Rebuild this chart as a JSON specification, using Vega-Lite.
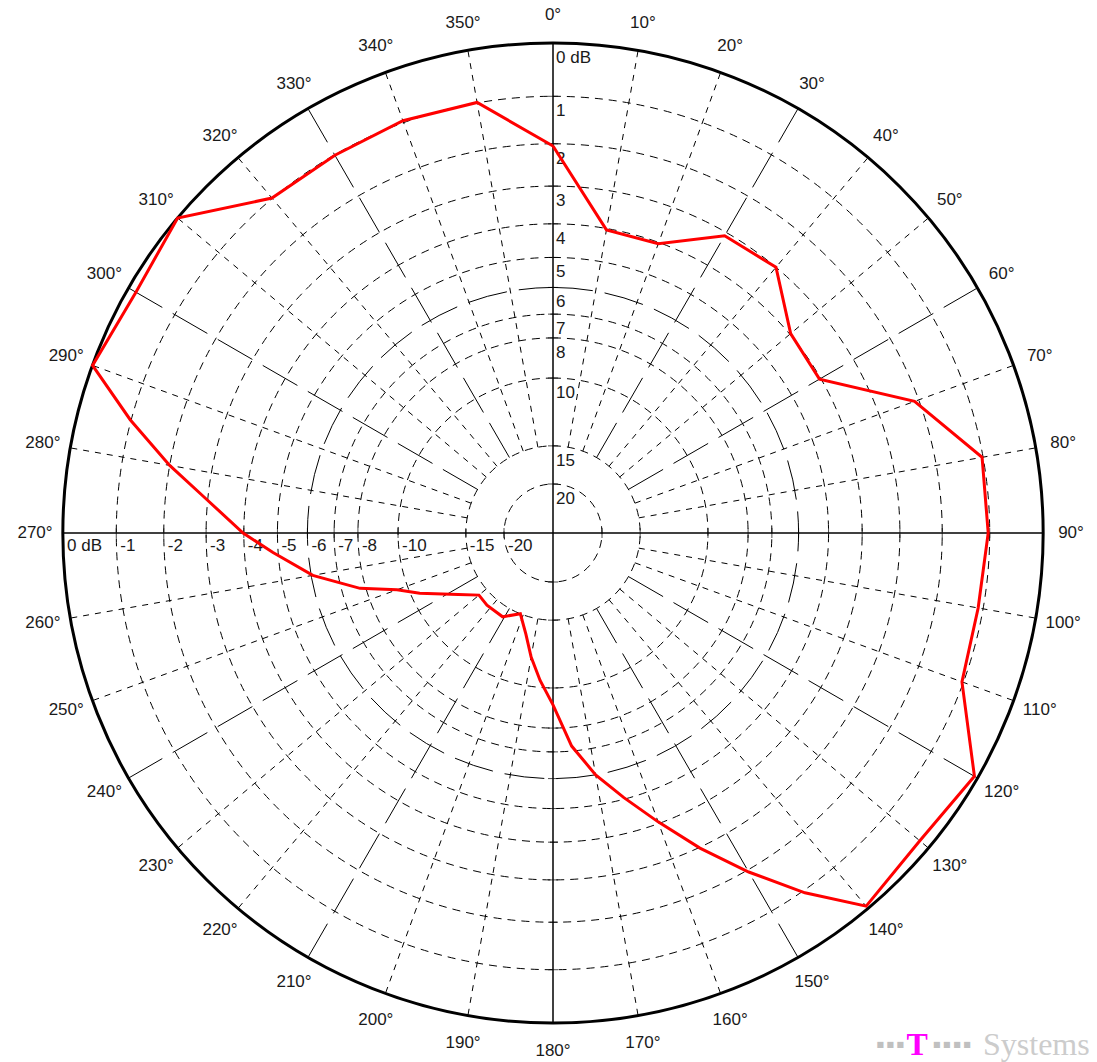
{
  "$schema": "https://vega.github.io/schema/vega-lite/v6.json",
  "width": 980,
  "height": 980,
  "autosize": {"type": "none"},
  "padding": {"left": 63, "top": 43, "right": 54, "bottom": 39},
  "background": "white",
  "config": {"view": {"stroke": null}, "font": "Liberation Sans"},
  "datasets": {
    "rings": [
      {"db": 0}, {"db": -1}, {"db": -2}, {"db": -3}, {"db": -4}, {"db": -5},
      {"db": -6}, {"db": -7}, {"db": -8}, {"db": -10}, {"db": -15}, {"db": -20}
    ],
    "radials": [
      {"angle": 10}, {"angle": 20}, {"angle": 30}, {"angle": 40}, {"angle": 50}, {"angle": 60},
      {"angle": 70}, {"angle": 80}, {"angle": 100}, {"angle": 110}, {"angle": 120}, {"angle": 130},
      {"angle": 140}, {"angle": 150}, {"angle": 160}, {"angle": 170}, {"angle": 190}, {"angle": 200},
      {"angle": 210}, {"angle": 220}, {"angle": 230}, {"angle": 240}, {"angle": 250}, {"angle": 260},
      {"angle": 280}, {"angle": 290}, {"angle": 300}, {"angle": 310}, {"angle": 320}, {"angle": 330},
      {"angle": 340}, {"angle": 350}
    ],
    "angles": [
      {"angle": 0}, {"angle": 10}, {"angle": 20}, {"angle": 30}, {"angle": 40}, {"angle": 50},
      {"angle": 60}, {"angle": 70}, {"angle": 80}, {"angle": 90}, {"angle": 100}, {"angle": 110},
      {"angle": 120}, {"angle": 130}, {"angle": 140}, {"angle": 150}, {"angle": 160}, {"angle": 170},
      {"angle": 180}, {"angle": 190}, {"angle": 200}, {"angle": 210}, {"angle": 220}, {"angle": 230},
      {"angle": 240}, {"angle": 250}, {"angle": 260}, {"angle": 270}, {"angle": 280}, {"angle": 290},
      {"angle": 300}, {"angle": 310}, {"angle": 320}, {"angle": 330}, {"angle": 340}, {"angle": 350}
    ],
    "pattern": [
      {"angle": 0, "db": -2.05}, {"angle": 10, "db": -4.04}, {"angle": 20, "db": -4.04},
      {"angle": 30, "db": -3.09}, {"angle": 40, "db": -3.0}, {"angle": 50, "db": -3.97},
      {"angle": 60, "db": -4.04}, {"angle": 70, "db": -2.1}, {"angle": 80, "db": -1.02},
      {"angle": 90, "db": -1.03}, {"angle": 100, "db": -1.1}, {"angle": 110, "db": -1.03},
      {"angle": 120, "db": -0.06}, {"angle": 130, "db": -0.2}, {"angle": 140, "db": -0.05},
      {"angle": 145, "db": -0.95}, {"angle": 150, "db": -1.95}, {"angle": 155, "db": -2.98},
      {"angle": 160, "db": -4.05}, {"angle": 165, "db": -5.05}, {"angle": 170, "db": -6.0},
      {"angle": 175, "db": -7.2}, {"angle": 180, "db": -9.1}, {"angle": 185, "db": -10.4},
      {"angle": 190, "db": -11.8}, {"angle": 195, "db": -13.4}, {"angle": 202, "db": -15.0},
      {"angle": 211, "db": -14.0}, {"angle": 222.5, "db": -14.0}, {"angle": 230, "db": -14.1},
      {"angle": 237, "db": -12.75}, {"angle": 245.7, "db": -10.5}, {"angle": 250, "db": -9.4},
      {"angle": 254, "db": -7.75}, {"angle": 260, "db": -6.06}, {"angle": 266, "db": -4.84},
      {"angle": 270, "db": -3.98}, {"angle": 276, "db": -2.88}, {"angle": 280, "db": -2.0},
      {"angle": 285, "db": -0.98}, {"angle": 290, "db": 0.0}, {"angle": 300, "db": -0.15},
      {"angle": 310, "db": 0.0}, {"angle": 320, "db": -0.99}, {"angle": 330, "db": -1.01},
      {"angle": 340, "db": -0.96}, {"angle": 350, "db": -0.99}, {"angle": 360, "db": -2.05}
    ]
  },
  "layer": [
    {
      "data": {"name": "rings"},
      "transform": [
        {"filter": "datum.db != 0 && datum.db != -6"},
        {"calculate": "pow(10, datum.db / 20)", "as": "a"}
      ],
      "mark": {"type": "arc", "filled": false, "stroke": "#000000", "strokeWidth": 1, "strokeDash": [8, 6], "theta": 0, "theta2": 6.2832},
      "encoding": {
        "x": {"datum": 0, "type": "quantitative", "scale": {"domain": [-1, 1], "nice": false, "zero": false}, "axis": null},
        "y": {"datum": 0, "type": "quantitative", "scale": {"domain": [-1, 1], "nice": false, "zero": false}, "axis": null},
        "radius": {"field": "a", "type": "quantitative", "stack": null, "scale": {"type": "linear", "domain": [0, 1], "range": [0, 490], "zero": true}, "legend": null}
      }
    },
    {
      "data": {"name": "rings"},
      "transform": [
        {"filter": "datum.db == -6"},
        {"calculate": "pow(10, datum.db / 20)", "as": "a"}
      ],
      "mark": {"type": "arc", "filled": false, "stroke": "#000000", "strokeWidth": 1, "strokeDash": [40, 12], "theta": 0, "theta2": 6.2832},
      "encoding": {
        "x": {"datum": 0, "type": "quantitative"},
        "y": {"datum": 0, "type": "quantitative"},
        "radius": {"field": "a", "type": "quantitative", "stack": null}
      }
    },
    {
      "data": {"name": "radials"},
      "transform": [
        {"filter": "datum.angle % 30 != 0"},
        {"calculate": "datum.angle * PI / 180", "as": "t"},
        {"calculate": "pow(10, -15 / 20) * sin(datum.t)", "as": "x"},
        {"calculate": "pow(10, -15 / 20) * cos(datum.t)", "as": "y"},
        {"calculate": "sin(datum.t)", "as": "x2"},
        {"calculate": "cos(datum.t)", "as": "y2"}
      ],
      "mark": {"type": "rule", "stroke": "#000000", "strokeWidth": 1, "strokeDash": [6, 6]},
      "encoding": {
        "x": {"field": "x", "type": "quantitative"},
        "y": {"field": "y", "type": "quantitative"},
        "x2": {"field": "x2"},
        "y2": {"field": "y2"}
      }
    },
    {
      "data": {"name": "radials"},
      "transform": [
        {"filter": "datum.angle % 30 == 0"},
        {"calculate": "datum.angle * PI / 180", "as": "t"},
        {"calculate": "pow(10, -15 / 20) * sin(datum.t)", "as": "x"},
        {"calculate": "pow(10, -15 / 20) * cos(datum.t)", "as": "y"},
        {"calculate": "sin(datum.t)", "as": "x2"},
        {"calculate": "cos(datum.t)", "as": "y2"}
      ],
      "mark": {"type": "rule", "stroke": "#000000", "strokeWidth": 1, "strokeDash": [40, 12]},
      "encoding": {
        "x": {"field": "x", "type": "quantitative"},
        "y": {"field": "y", "type": "quantitative"},
        "x2": {"field": "x2"},
        "y2": {"field": "y2"}
      }
    },
    {
      "data": {"values": [{}]},
      "mark": {"type": "rule", "stroke": "#000000", "strokeWidth": 1.5},
      "encoding": {
        "x": {"datum": -1, "type": "quantitative"},
        "x2": {"datum": 1},
        "y": {"datum": 0, "type": "quantitative"}
      }
    },
    {
      "data": {"values": [{}]},
      "mark": {"type": "rule", "stroke": "#000000", "strokeWidth": 1.5},
      "encoding": {
        "y": {"datum": -1, "type": "quantitative"},
        "y2": {"datum": 1},
        "x": {"datum": 0, "type": "quantitative"}
      }
    },
    {
      "data": {"name": "rings"},
      "transform": [
        {"filter": "datum.db != 0"},
        {"calculate": "pow(10, datum.db / 20)", "as": "p"},
        {"calculate": "-pow(10, datum.db / 20)", "as": "n"},
        {"fold": ["p", "n"], "as": ["side", "v"]}
      ],
      "mark": {"type": "tick", "orient": "vertical", "color": "#000000", "size": 10, "thickness": 1},
      "encoding": {
        "x": {"field": "v", "type": "quantitative"},
        "y": {"datum": 0, "type": "quantitative"}
      }
    },
    {
      "data": {"name": "rings"},
      "transform": [
        {"filter": "datum.db != 0"},
        {"calculate": "pow(10, datum.db / 20)", "as": "p"},
        {"calculate": "-pow(10, datum.db / 20)", "as": "n"},
        {"fold": ["p", "n"], "as": ["side", "v"]}
      ],
      "mark": {"type": "tick", "orient": "horizontal", "color": "#000000", "size": 10, "thickness": 1},
      "encoding": {
        "y": {"field": "v", "type": "quantitative"},
        "x": {"datum": 0, "type": "quantitative"}
      }
    },
    {
      "data": {"values": [{}]},
      "mark": {"type": "arc", "filled": false, "stroke": "#000000", "strokeWidth": 3, "theta": 0, "theta2": 6.2832},
      "encoding": {
        "x": {"datum": 0, "type": "quantitative"},
        "y": {"datum": 0, "type": "quantitative"},
        "radius": {"datum": 1, "type": "quantitative", "stack": null}
      }
    },
    {
      "data": {"name": "angles"},
      "transform": [{"calculate": "datum.angle + '°'", "as": "label"}],
      "mark": {"type": "text", "radius": 518, "align": "center", "baseline": "middle", "fontSize": 17, "color": "#1a1a1a"},
      "encoding": {
        "x": {"datum": 0, "type": "quantitative"},
        "y": {"datum": 0, "type": "quantitative"},
        "theta": {"field": "angle", "type": "quantitative", "stack": null, "scale": {"domain": [0, 360], "range": [0, 6.283185307179586]}},
        "text": {"field": "label"}
      }
    },
    {
      "data": {"name": "rings"},
      "transform": [
        {"calculate": "pow(10, datum.db / 20)", "as": "a"},
        {"calculate": "datum.db == 0 ? '0 dB' : '' + abs(datum.db)", "as": "label"}
      ],
      "mark": {"type": "text", "align": "left", "baseline": "middle", "dx": 3, "dy": 15, "fontSize": 17, "color": "#1a1a1a"},
      "encoding": {
        "x": {"datum": 0, "type": "quantitative"},
        "y": {"field": "a", "type": "quantitative"},
        "text": {"field": "label"}
      }
    },
    {
      "data": {"name": "rings"},
      "transform": [
        {"calculate": "-pow(10, datum.db / 20)", "as": "na"},
        {"calculate": "datum.db == 0 ? '0 dB' : '' + datum.db", "as": "label"}
      ],
      "mark": {"type": "text", "align": "left", "baseline": "middle", "dx": 4, "dy": 13, "fontSize": 17, "color": "#1a1a1a"},
      "encoding": {
        "x": {"field": "na", "type": "quantitative"},
        "y": {"datum": 0, "type": "quantitative"},
        "text": {"field": "label"}
      }
    },
    {
      "data": {"name": "pattern"},
      "transform": [
        {"calculate": "pow(10, datum.db / 20)", "as": "a"},
        {"calculate": "datum.a * sin(datum.angle * PI / 180)", "as": "x"},
        {"calculate": "datum.a * cos(datum.angle * PI / 180)", "as": "y"}
      ],
      "mark": {"type": "line", "color": "#ff0000", "strokeWidth": 3, "strokeJoin": "miter"},
      "encoding": {
        "x": {"field": "x", "type": "quantitative"},
        "y": {"field": "y", "type": "quantitative"},
        "order": {"field": "angle", "type": "quantitative"}
      }
    },
    {
      "data": {"values": [{}]},
      "mark": {"type": "text", "text": "■  ■  ■", "font": "DejaVu Sans", "fontSize": 8, "align": "left", "baseline": "middle", "color": "#c0c0c0"},
      "encoding": {
        "x": {"datum": 0.66, "type": "quantitative"},
        "y": {"datum": -1.0449, "type": "quantitative"}
      }
    },
    {
      "data": {"values": [{}]},
      "mark": {"type": "text", "text": "■  ■  ■  ■", "font": "DejaVu Sans", "fontSize": 8, "align": "left", "baseline": "middle", "color": "#c0c0c0"},
      "encoding": {
        "x": {"datum": 0.7755, "type": "quantitative"},
        "y": {"datum": -1.0449, "type": "quantitative"}
      }
    },
    {
      "data": {"values": [{}]},
      "mark": {"type": "text", "text": "T", "font": "Liberation Serif", "fontWeight": "bold", "fontSize": 32, "align": "center", "baseline": "alphabetic", "color": "#ff00ff"},
      "encoding": {
        "x": {"datum": 0.743, "type": "quantitative"},
        "y": {"datum": -1.065, "type": "quantitative"}
      }
    },
    {
      "data": {"values": [{}]},
      "mark": {"type": "text", "text": "Systems", "font": "Liberation Serif", "fontSize": 32, "align": "left", "baseline": "alphabetic", "color": "#cccccc"},
      "encoding": {
        "x": {"datum": 0.8776, "type": "quantitative"},
        "y": {"datum": -1.065, "type": "quantitative"}
      }
    }
  ]
}
